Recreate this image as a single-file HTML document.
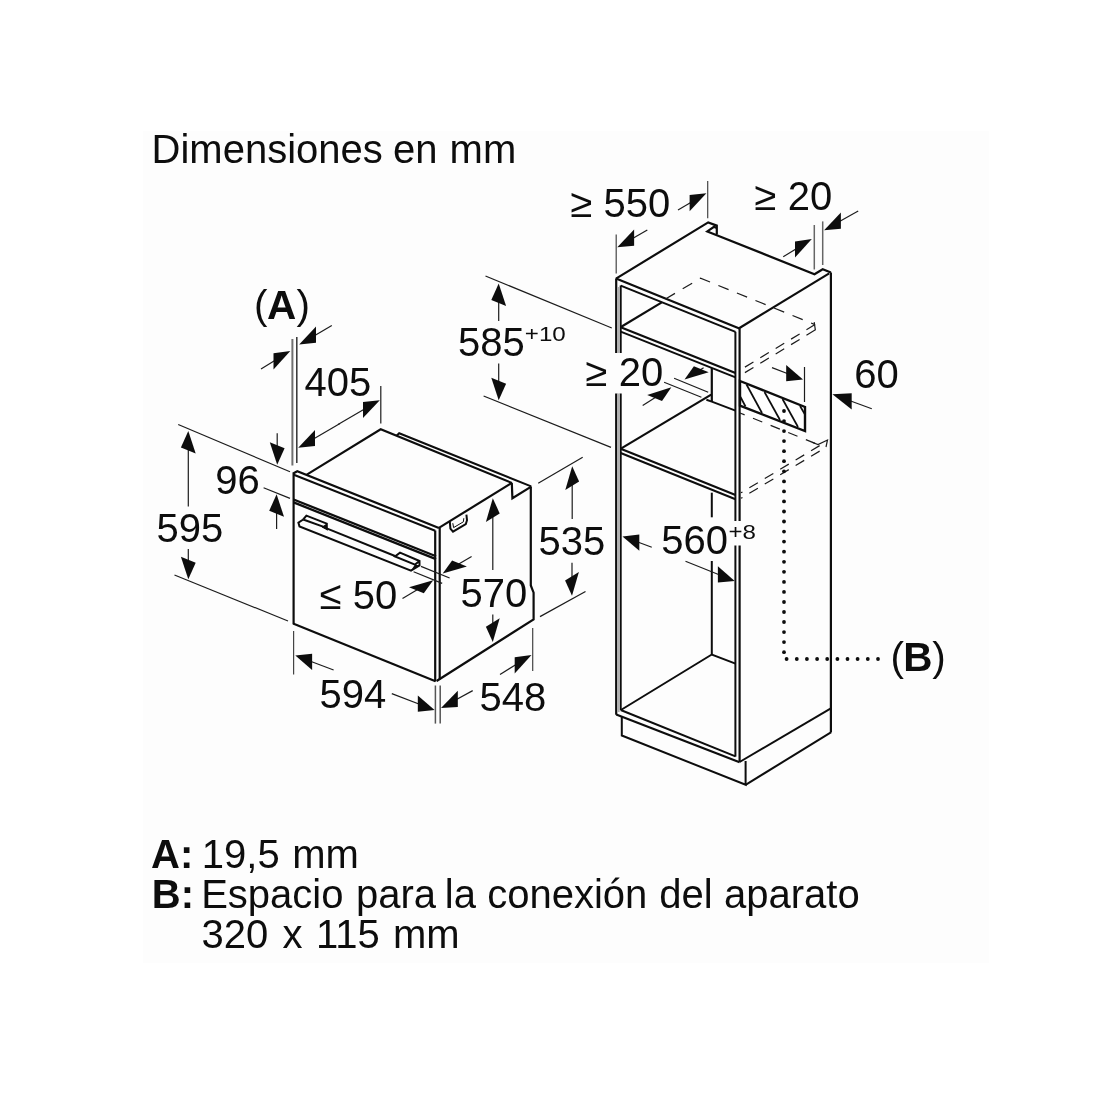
<!DOCTYPE html>
<html lang="es"><head><meta charset="utf-8"><title>Dimensiones en mm</title>
<style>
html,body{margin:0;padding:0;background:#fff;width:1100px;height:1100px;overflow:hidden}
svg{display:block;will-change:transform;filter:blur(0.4px)}
text{font-family:"Liberation Sans",Arial,Helvetica,sans-serif;fill:#0d0d0d}
</style></head><body>
<svg width="1100" height="1100" viewBox="0 0 1100 1100">
<rect width="1100" height="1100" fill="#fff"/>
<rect x="143" y="131" width="846" height="832" fill="#fdfdfd"/>
<text y="163.1" font-size="40"><tspan x="151.6">Dimensiones</tspan> <tspan x="393.0">en</tspan> <tspan x="449.6">mm</tspan></text>
<text y="868.4" font-size="40"><tspan x="151.0" font-weight="bold">A:</tspan> <tspan x="201.8">19,5</tspan> <tspan x="292.3">mm</tspan></text>
<text y="908.4" font-size="40"><tspan x="151.8" font-weight="bold">B:</tspan> <tspan x="201.2">Espacio</tspan> <tspan x="356.0">para</tspan> <tspan x="444.8">la</tspan> <tspan x="487.2">conexión</tspan> <tspan x="659.2">del</tspan> <tspan x="724.0">aparato</tspan></text>
<text y="947.8" font-size="40"><tspan x="201.5">320</tspan> <tspan x="282.6">x</tspan> <tspan x="316.0">115</tspan> <tspan x="393.0">mm</tspan></text>
<line x1="293.6" y1="472.3" x2="293.6" y2="624.0" stroke="#0d0d0d" stroke-width="2.2" />
<line x1="293.0" y1="623.6" x2="435.5" y2="681.2" stroke="#0d0d0d" stroke-width="2.2" />
<line x1="435.2" y1="530.5" x2="435.2" y2="681.5" stroke="#0d0d0d" stroke-width="2.2" />
<line x1="439.7" y1="528.0" x2="439.7" y2="679.5" stroke="#0d0d0d" stroke-width="2.2" />
<polyline points="293.6,473.3 297.3,471.2 438.9,527.9" fill="none" stroke="#0d0d0d" stroke-width="2.2" stroke-linejoin="miter" />
<line x1="293.8" y1="474.7" x2="435.2" y2="530.8" stroke="#0d0d0d" stroke-width="2.0" />
<polyline points="306.8,474.6 380.7,429.3 511.8,482.9" fill="none" stroke="#0d0d0d" stroke-width="2.2" stroke-linejoin="miter" />
<line x1="438.9" y1="527.9" x2="511.8" y2="482.9" stroke="#0d0d0d" stroke-width="2.2" />
<polyline points="396.6,435.8 399.2,433.2 531.2,486.4" fill="none" stroke="#0d0d0d" stroke-width="2.0" stroke-linejoin="miter" />
<polyline points="511.8,482.9 512.4,498.2 531.2,486.6" fill="none" stroke="#0d0d0d" stroke-width="2.2" stroke-linejoin="miter" />
<polyline points="530.8,486.4 530.8,585.5 533.6,592.7 533.6,619.4 436.6,681.0" fill="none" stroke="#0d0d0d" stroke-width="2.2" stroke-linejoin="miter" />
<line x1="293.6" y1="499.5" x2="436.0" y2="556.2" stroke="#0d0d0d" stroke-width="2.3" />
<line x1="293.6" y1="502.4" x2="436.0" y2="559.1" stroke="#0d0d0d" stroke-width="2.3" />
<polyline points="322.3,526.6 395.0,556.0" fill="none" stroke="#0d0d0d" stroke-width="2.0" stroke-linejoin="miter" />
<polyline points="303.2,519.5 298.4,522.6 299.5,526.4 411.0,570.6 419.5,565.4 419.5,561.0 400.0,552.7 395.0,556.4 415.0,564.6 419.5,561.0" fill="none" stroke="#0d0d0d" stroke-width="2.0" stroke-linejoin="miter" />
<polyline points="303.2,519.5 306.4,515.6 326.8,523.6 326.8,529.0 322.3,526.4 303.2,519.5" fill="none" stroke="#0d0d0d" stroke-width="2.0" stroke-linejoin="miter" />
<polygon points="322.3,526.4 326.8,523.6 326.8,529.2" fill="#0d0d0d" stroke="none" stroke-width="0"/>
<polygon points="411.0,570.6 415.0,564.6 419.5,565.6" fill="#0d0d0d" stroke="none" stroke-width="0"/>
<polyline points="449.8,521.6 450.4,528.6 453.0,531.6 465.8,524.0 467.0,520.2 466.4,514.6" fill="none" stroke="#0d0d0d" stroke-width="2.0" stroke-linejoin="miter" />
<polyline points="452.8,523.2 453.6,527.6 463.4,521.8 463.8,518.2" fill="none" stroke="#0d0d0d" stroke-width="1.0" stroke-linejoin="miter" />
<line x1="292.4" y1="339.0" x2="292.4" y2="465.5" stroke="#707070" stroke-width="2.0" />
<line x1="296.8" y1="337.0" x2="296.8" y2="463.0" stroke="#333" stroke-width="1.5" />
<line x1="311.0" y1="337.7" x2="331.8" y2="325.4" stroke="#1c1c1c" stroke-width="1.2" />
<polygon points="299.2,344.6 316.0,326.6 316.0,342.8" fill="#0d0d0d" stroke="none" stroke-width="0"/>
<line x1="278.5" y1="358.2" x2="261.0" y2="369.0" stroke="#1c1c1c" stroke-width="1.2" />
<polygon points="290.3,351.0 273.5,353.2 273.5,369.4" fill="#0d0d0d" stroke="none" stroke-width="0"/>
<text y="318.8" font-size="40.5"><tspan x="254.0">(</tspan><tspan x="266.9" font-weight="bold">A</tspan><tspan x="296.6">)</tspan></text>
<text x="304.5" y="395.8" font-size="40" >405</text>
<line x1="380.8" y1="386.0" x2="380.8" y2="423.6" stroke="#1c1c1c" stroke-width="1.2" />
<line x1="310.0" y1="440.9" x2="340.0" y2="423.4" stroke="#1c1c1c" stroke-width="1.2" />
<polygon points="298.2,447.8 315.0,429.9 315.0,446.1" fill="#0d0d0d" stroke="none" stroke-width="0"/>
<line x1="368.0" y1="407.1" x2="338.0" y2="424.6" stroke="#1c1c1c" stroke-width="1.2" />
<polygon points="379.8,400.2 363.0,401.9 363.0,418.1" fill="#0d0d0d" stroke="none" stroke-width="0"/>
<text x="215.2" y="494.0" font-size="40" >96</text>
<line x1="263.6" y1="487.8" x2="290.0" y2="498.4" stroke="#1c1c1c" stroke-width="1.2" />
<line x1="277.2" y1="451.2" x2="277.2" y2="433.2" stroke="#1c1c1c" stroke-width="1.2" />
<polygon points="277.2,464.8 269.8,442.3 284.6,448.3" fill="#0d0d0d" stroke="none" stroke-width="0"/>
<line x1="276.6" y1="507.9" x2="276.6" y2="529.0" stroke="#1c1c1c" stroke-width="1.2" />
<polygon points="276.6,494.3 269.2,510.8 284.0,516.8" fill="#0d0d0d" stroke="none" stroke-width="0"/>
<text x="156.6" y="542.0" font-size="40" >595</text>
<line x1="178.2" y1="424.5" x2="290.0" y2="471.8" stroke="#1c1c1c" stroke-width="1.2" />
<line x1="174.5" y1="575.0" x2="288.0" y2="621.0" stroke="#1c1c1c" stroke-width="1.2" />
<line x1="188.3" y1="444.6" x2="188.3" y2="506.4" stroke="#1c1c1c" stroke-width="1.2" />
<polygon points="188.3,431.0 180.9,447.5 195.7,453.5" fill="#0d0d0d" stroke="none" stroke-width="0"/>
<line x1="188.3" y1="565.6" x2="188.3" y2="549.0" stroke="#1c1c1c" stroke-width="1.2" />
<polygon points="188.3,579.3 180.9,556.8 195.7,562.8" fill="#0d0d0d" stroke="none" stroke-width="0"/>
<text x="319.8" y="609.2" font-size="40" >≤ 50</text>
<line x1="454.5" y1="566.5" x2="471.6" y2="556.4" stroke="#1c1c1c" stroke-width="1.2" />
<polygon points="442.7,573.4 452.1,560.5 466.9,566.5" fill="#0d0d0d" stroke="none" stroke-width="0"/>
<line x1="421.4" y1="587.2" x2="402.5" y2="598.6" stroke="#1c1c1c" stroke-width="1.2" />
<polygon points="433.2,580.2 409.0,587.3 423.8,593.3" fill="#0d0d0d" stroke="none" stroke-width="0"/>
<line x1="421.0" y1="566.4" x2="449.6" y2="578.0" stroke="#1c1c1c" stroke-width="1.2" />
<line x1="413.6" y1="571.8" x2="442.2" y2="583.4" stroke="#1c1c1c" stroke-width="1.2" />
<text x="460.4" y="606.6" font-size="40" >570</text>
<line x1="492.8" y1="511.8" x2="492.8" y2="570.0" stroke="#1c1c1c" stroke-width="1.2" />
<polygon points="492.8,498.2 485.9,522.0 499.7,513.4" fill="#0d0d0d" stroke="none" stroke-width="0"/>
<line x1="492.8" y1="628.4" x2="492.8" y2="614.5" stroke="#1c1c1c" stroke-width="1.2" />
<polygon points="492.8,642.0 485.9,626.8 499.7,618.2" fill="#0d0d0d" stroke="none" stroke-width="0"/>
<text x="538.6" y="554.8" font-size="40" >535</text>
<line x1="572.2" y1="479.8" x2="572.2" y2="519.0" stroke="#1c1c1c" stroke-width="1.2" />
<polygon points="572.2,466.2 565.3,490.0 579.1,481.4" fill="#0d0d0d" stroke="none" stroke-width="0"/>
<line x1="572.0" y1="582.1" x2="572.0" y2="562.7" stroke="#1c1c1c" stroke-width="1.2" />
<polygon points="572.0,595.8 565.1,580.6 578.9,572.0" fill="#0d0d0d" stroke="none" stroke-width="0"/>
<line x1="538.2" y1="483.2" x2="582.7" y2="457.3" stroke="#1c1c1c" stroke-width="1.2" />
<line x1="540.0" y1="616.6" x2="585.5" y2="591.5" stroke="#1c1c1c" stroke-width="1.2" />
<text x="319.6" y="707.6" font-size="40" >594</text>
<line x1="293.6" y1="631.0" x2="293.6" y2="674.5" stroke="#444" stroke-width="1.2" />
<line x1="435.4" y1="685.5" x2="435.4" y2="723.6" stroke="#555" stroke-width="1.5" />
<line x1="440.2" y1="685.5" x2="440.2" y2="723.6" stroke="#555" stroke-width="1.5" />
<line x1="307.1" y1="660.0" x2="333.6" y2="670.0" stroke="#1c1c1c" stroke-width="1.2" />
<polygon points="295.3,655.5 312.1,653.8 312.1,670.0" fill="#0d0d0d" stroke="none" stroke-width="0"/>
<line x1="422.8" y1="705.5" x2="391.8" y2="693.6" stroke="#1c1c1c" stroke-width="1.2" />
<polygon points="434.6,710.0 417.8,695.5 417.8,711.7" fill="#0d0d0d" stroke="none" stroke-width="0"/>
<text x="479.6" y="711.2" font-size="40" >548</text>
<line x1="532.7" y1="628.0" x2="532.7" y2="671.0" stroke="#444" stroke-width="1.2" />
<line x1="452.8" y1="701.5" x2="472.7" y2="690.6" stroke="#1c1c1c" stroke-width="1.2" />
<polygon points="441.0,708.0 457.8,690.7 457.8,706.9" fill="#0d0d0d" stroke="none" stroke-width="0"/>
<line x1="519.7" y1="662.3" x2="500.0" y2="674.5" stroke="#1c1c1c" stroke-width="1.2" />
<polygon points="531.5,655.0 514.7,657.3 514.7,673.5" fill="#0d0d0d" stroke="none" stroke-width="0"/>
<text x="458.0" y="355.9" font-size="40" >585</text>
<text x="524.8" y="341.4" font-size="20" textLength="41" lengthAdjust="spacingAndGlyphs" >+10</text>
<line x1="485.5" y1="276.0" x2="611.8" y2="328.0" stroke="#1c1c1c" stroke-width="1.2" />
<line x1="483.6" y1="396.0" x2="611.0" y2="447.4" stroke="#1c1c1c" stroke-width="1.2" />
<line x1="498.7" y1="297.0" x2="498.7" y2="321.0" stroke="#1c1c1c" stroke-width="1.2" />
<polygon points="498.7,283.4 491.3,299.9 506.1,305.9" fill="#0d0d0d" stroke="none" stroke-width="0"/>
<line x1="498.7" y1="386.6" x2="498.7" y2="363.6" stroke="#1c1c1c" stroke-width="1.2" />
<polygon points="498.7,400.2 491.3,377.7 506.1,383.7" fill="#0d0d0d" stroke="none" stroke-width="0"/>
<line x1="616.2" y1="278.4" x2="616.2" y2="353.0" stroke="#0d0d0d" stroke-width="2.2" />
<line x1="616.2" y1="393.6" x2="616.2" y2="714.8" stroke="#0d0d0d" stroke-width="2.2" />
<line x1="620.7" y1="285.5" x2="620.7" y2="353.0" stroke="#0d0d0d" stroke-width="2.0" />
<line x1="620.7" y1="393.6" x2="620.7" y2="710.0" stroke="#0d0d0d" stroke-width="2.0" />
<line x1="618.4" y1="287.0" x2="618.4" y2="353.0" stroke="#b0b0b0" stroke-width="2.6" />
<line x1="618.4" y1="393.6" x2="618.4" y2="712.0" stroke="#b0b0b0" stroke-width="2.6" />
<polyline points="616.0,278.6 708.2,222.4 716.8,225.6 716.8,234.6" fill="none" stroke="#0d0d0d" stroke-width="2.2" stroke-linejoin="miter" />
<polyline points="716.8,228.0 714.0,226.8 707.3,231.4 716.8,235.2 814.5,274.2 822.7,269.2 830.9,272.4" fill="none" stroke="#0d0d0d" stroke-width="2.2" stroke-linejoin="miter" />
<line x1="739.1" y1="328.2" x2="829.2" y2="273.4" stroke="#0d0d0d" stroke-width="2.2" />
<line x1="616.0" y1="278.6" x2="739.4" y2="328.4" stroke="#0d0d0d" stroke-width="2.2" />
<line x1="620.7" y1="285.6" x2="735.5" y2="331.9" stroke="#0d0d0d" stroke-width="2.0" />
<line x1="735.4" y1="331.8" x2="735.4" y2="521.0" stroke="#0d0d0d" stroke-width="2.0" />
<line x1="735.4" y1="545.5" x2="735.4" y2="756.6" stroke="#0d0d0d" stroke-width="2.0" />
<line x1="739.6" y1="328.3" x2="739.6" y2="521.0" stroke="#0d0d0d" stroke-width="2.2" />
<line x1="739.6" y1="545.5" x2="739.6" y2="762.0" stroke="#0d0d0d" stroke-width="2.2" />
<line x1="830.9" y1="272.4" x2="830.9" y2="732.0" stroke="#0d0d0d" stroke-width="2.2" />
<line x1="620.7" y1="327.2" x2="735.5" y2="373.0" stroke="#0d0d0d" stroke-width="2.2" />
<line x1="620.7" y1="331.6" x2="735.5" y2="377.4" stroke="#0d0d0d" stroke-width="2.0" />
<line x1="620.9" y1="327.0" x2="661.8" y2="302.4" stroke="#0d0d0d" stroke-width="2.2" />
<line x1="620.7" y1="448.8" x2="735.5" y2="495.0" stroke="#0d0d0d" stroke-width="2.2" />
<line x1="620.7" y1="453.0" x2="735.5" y2="499.2" stroke="#0d0d0d" stroke-width="2.0" />
<line x1="620.9" y1="448.6" x2="711.2" y2="394.6" stroke="#0d0d0d" stroke-width="2.2" />
<line x1="711.8" y1="368.0" x2="711.8" y2="401.8" stroke="#0d0d0d" stroke-width="2.2" />
<polyline points="706.4,399.8 711.8,401.6 735.5,410.6" fill="none" stroke="#0d0d0d" stroke-width="2.0" stroke-linejoin="miter" />
<line x1="711.8" y1="492.7" x2="711.8" y2="517.3" stroke="#0d0d0d" stroke-width="2.0" />
<line x1="711.8" y1="561.0" x2="711.8" y2="654.5" stroke="#0d0d0d" stroke-width="2.0" />
<polyline points="620.9,710.0 711.8,654.5 735.5,663.6" fill="none" stroke="#0d0d0d" stroke-width="2.0" stroke-linejoin="miter" />
<line x1="616.2" y1="714.5" x2="739.6" y2="762.3" stroke="#0d0d0d" stroke-width="2.2" />
<line x1="620.7" y1="710.0" x2="735.5" y2="756.4" stroke="#0d0d0d" stroke-width="2.0" />
<polyline points="621.8,716.6 621.8,735.5 745.6,784.8 745.6,761.0" fill="none" stroke="#0d0d0d" stroke-width="2.0" stroke-linejoin="miter" />
<line x1="745.6" y1="784.8" x2="831.3" y2="732.2" stroke="#0d0d0d" stroke-width="2.0" />
<line x1="739.6" y1="762.0" x2="831.3" y2="708.2" stroke="#0d0d0d" stroke-width="2.0" />
<polygon points="740.0,381.0 805.0,407.0 805.0,431.0 740.0,405.6" fill="#fff" stroke="#0d0d0d" stroke-width="2.4"/>
<line x1="746.5" y1="384.5" x2="762.0" y2="413.0" stroke="#0d0d0d" stroke-width="1.7" />
<line x1="764.5" y1="392.0" x2="780.0" y2="420.0" stroke="#0d0d0d" stroke-width="1.7" />
<line x1="782.5" y1="399.0" x2="798.0" y2="427.0" stroke="#0d0d0d" stroke-width="1.7" />
<line x1="740.5" y1="397.0" x2="745.5" y2="406.5" stroke="#0d0d0d" stroke-width="1.7" />
<line x1="800.0" y1="406.0" x2="805.0" y2="414.5" stroke="#0d0d0d" stroke-width="1.7" />
<polyline points="665.5,299.0 700.5,278.2 815.0,324.6" fill="none" stroke="#1c1c1c" stroke-width="1.2" stroke-linejoin="miter" stroke-dasharray="11 9"/>
<line x1="815.0" y1="324.6" x2="741.0" y2="369.5" stroke="#1c1c1c" stroke-width="1.2" stroke-dasharray="10 8"/>
<line x1="815.0" y1="330.1" x2="741.0" y2="375.0" stroke="#1c1c1c" stroke-width="1.2" stroke-dasharray="10 8"/>
<polyline points="814.2,322.2 815.4,330.4" fill="none" stroke="#1c1c1c" stroke-width="1.2" stroke-linejoin="miter" />
<line x1="740.0" y1="413.0" x2="818.0" y2="444.5" stroke="#1c1c1c" stroke-width="1.2" stroke-dasharray="10 9" stroke-dashoffset="5"/>
<polyline points="812.0,442.2 818.0,444.6 827.5,440.0 826.0,447.0" fill="none" stroke="#1c1c1c" stroke-width="1.2" stroke-linejoin="miter" />
<line x1="826.5" y1="441.5" x2="741.0" y2="492.8" stroke="#1c1c1c" stroke-width="1.2" stroke-dasharray="10 8" stroke-dashoffset="10"/>
<line x1="826.5" y1="447.0" x2="741.0" y2="498.3" stroke="#1c1c1c" stroke-width="1.2" stroke-dasharray="10 8" stroke-dashoffset="10"/>
<circle cx="784.0" cy="411.0" r="1.9" fill="#0d0d0d"/>
<circle cx="784.0" cy="421.1" r="1.9" fill="#0d0d0d"/>
<circle cx="784.0" cy="431.1" r="1.9" fill="#0d0d0d"/>
<circle cx="784.0" cy="441.1" r="1.9" fill="#0d0d0d"/>
<circle cx="784.0" cy="451.2" r="1.9" fill="#0d0d0d"/>
<circle cx="784.0" cy="461.2" r="1.9" fill="#0d0d0d"/>
<circle cx="784.0" cy="471.3" r="1.9" fill="#0d0d0d"/>
<circle cx="784.0" cy="481.4" r="1.9" fill="#0d0d0d"/>
<circle cx="784.0" cy="491.4" r="1.9" fill="#0d0d0d"/>
<circle cx="784.0" cy="501.4" r="1.9" fill="#0d0d0d"/>
<circle cx="784.0" cy="511.5" r="1.9" fill="#0d0d0d"/>
<circle cx="784.0" cy="521.5" r="1.9" fill="#0d0d0d"/>
<circle cx="784.0" cy="531.6" r="1.9" fill="#0d0d0d"/>
<circle cx="784.0" cy="541.6" r="1.9" fill="#0d0d0d"/>
<circle cx="784.0" cy="551.7" r="1.9" fill="#0d0d0d"/>
<circle cx="784.0" cy="561.8" r="1.9" fill="#0d0d0d"/>
<circle cx="784.0" cy="571.8" r="1.9" fill="#0d0d0d"/>
<circle cx="784.0" cy="581.9" r="1.9" fill="#0d0d0d"/>
<circle cx="784.0" cy="591.9" r="1.9" fill="#0d0d0d"/>
<circle cx="784.0" cy="602.0" r="1.9" fill="#0d0d0d"/>
<circle cx="784.0" cy="612.0" r="1.9" fill="#0d0d0d"/>
<circle cx="784.0" cy="622.0" r="1.9" fill="#0d0d0d"/>
<circle cx="784.0" cy="632.1" r="1.9" fill="#0d0d0d"/>
<circle cx="784.0" cy="642.1" r="1.9" fill="#0d0d0d"/>
<circle cx="784.0" cy="652.2" r="1.9" fill="#0d0d0d"/>
<circle cx="786.6" cy="659.0" r="1.9" fill="#0d0d0d"/>
<circle cx="796.8" cy="659.0" r="1.9" fill="#0d0d0d"/>
<circle cx="806.9" cy="659.0" r="1.9" fill="#0d0d0d"/>
<circle cx="817.1" cy="659.0" r="1.9" fill="#0d0d0d"/>
<circle cx="827.2" cy="659.0" r="1.9" fill="#0d0d0d"/>
<circle cx="837.4" cy="659.0" r="1.9" fill="#0d0d0d"/>
<circle cx="847.5" cy="659.0" r="1.9" fill="#0d0d0d"/>
<circle cx="857.6" cy="659.0" r="1.9" fill="#0d0d0d"/>
<circle cx="867.8" cy="659.0" r="1.9" fill="#0d0d0d"/>
<circle cx="878.0" cy="659.0" r="1.9" fill="#0d0d0d"/>
<text y="670.6" font-size="40.5"><tspan x="890.4">(</tspan><tspan x="903.2" font-weight="bold">B</tspan><tspan x="932.3">)</tspan></text>
<text x="570.4" y="217.0" font-size="40" >≥ 550</text>
<line x1="616.2" y1="234.5" x2="616.2" y2="273.4" stroke="#444" stroke-width="1.2" />
<line x1="707.7" y1="181.0" x2="707.7" y2="218.2" stroke="#444" stroke-width="1.2" />
<line x1="694.6" y1="200.2" x2="678.0" y2="210.0" stroke="#1c1c1c" stroke-width="1.2" />
<polygon points="706.4,193.3 689.6,195.1 689.6,211.3" fill="#0d0d0d" stroke="none" stroke-width="0"/>
<line x1="629.1" y1="240.5" x2="647.3" y2="230.0" stroke="#1c1c1c" stroke-width="1.2" />
<polygon points="617.3,247.3 634.1,229.5 634.1,245.7" fill="#0d0d0d" stroke="none" stroke-width="0"/>
<text x="754.6" y="210.2" font-size="40" >≥ 20</text>
<line x1="814.3" y1="225.0" x2="814.3" y2="269.5" stroke="#666" stroke-width="1.5" />
<line x1="822.7" y1="221.4" x2="822.7" y2="265.0" stroke="#666" stroke-width="1.5" />
<line x1="835.9" y1="223.6" x2="858.2" y2="211.0" stroke="#1c1c1c" stroke-width="1.2" />
<polygon points="824.1,230.2 840.9,212.6 840.9,228.8" fill="#0d0d0d" stroke="none" stroke-width="0"/>
<line x1="800.0" y1="246.4" x2="783.2" y2="256.8" stroke="#1c1c1c" stroke-width="1.2" />
<polygon points="811.8,239.1 795.0,241.4 795.0,257.6" fill="#0d0d0d" stroke="none" stroke-width="0"/>
<text x="585.6" y="385.8" font-size="40" >≥ 20</text>
<line x1="696.3" y1="372.3" x2="703.6" y2="367.8" stroke="#1c1c1c" stroke-width="1.2" />
<polygon points="684.5,379.5 693.9,366.2 708.7,372.2" fill="#0d0d0d" stroke="none" stroke-width="0"/>
<line x1="659.6" y1="394.8" x2="642.7" y2="405.5" stroke="#1c1c1c" stroke-width="1.2" />
<polygon points="671.4,387.3 647.2,395.0 662.0,401.0" fill="#0d0d0d" stroke="none" stroke-width="0"/>
<line x1="674.1" y1="378.2" x2="708.2" y2="392.3" stroke="#1c1c1c" stroke-width="1.2" />
<line x1="664.1" y1="382.3" x2="701.4" y2="397.3" stroke="#1c1c1c" stroke-width="1.2" />
<text x="854.2" y="387.6" font-size="40" >60</text>
<line x1="845.9" y1="399.2" x2="871.8" y2="408.7" stroke="#1c1c1c" stroke-width="1.2" />
<polygon points="832.4,394.3 851.7,393.2 851.7,409.4" fill="#0d0d0d" stroke="none" stroke-width="0"/>
<line x1="804.5" y1="367.0" x2="804.5" y2="402.0" stroke="#1c1c1c" stroke-width="1.2" />
<line x1="791.2" y1="375.0" x2="772.0" y2="367.6" stroke="#1c1c1c" stroke-width="1.2" />
<polygon points="803.0,379.6 786.2,365.0 786.2,381.2" fill="#0d0d0d" stroke="none" stroke-width="0"/>
<text x="661.2" y="553.8" font-size="40" >560</text>
<text x="728.4" y="539.2" font-size="20" textLength="27.5" lengthAdjust="spacingAndGlyphs" >+8</text>
<line x1="634.3" y1="540.8" x2="651.8" y2="547.3" stroke="#1c1c1c" stroke-width="1.2" />
<polygon points="622.5,536.4 639.3,534.5 639.3,550.7" fill="#0d0d0d" stroke="none" stroke-width="0"/>
<line x1="722.9" y1="576.3" x2="685.5" y2="561.3" stroke="#1c1c1c" stroke-width="1.2" />
<polygon points="734.7,581.0 717.9,566.2 717.9,582.4" fill="#0d0d0d" stroke="none" stroke-width="0"/>
</svg>
</body></html>
